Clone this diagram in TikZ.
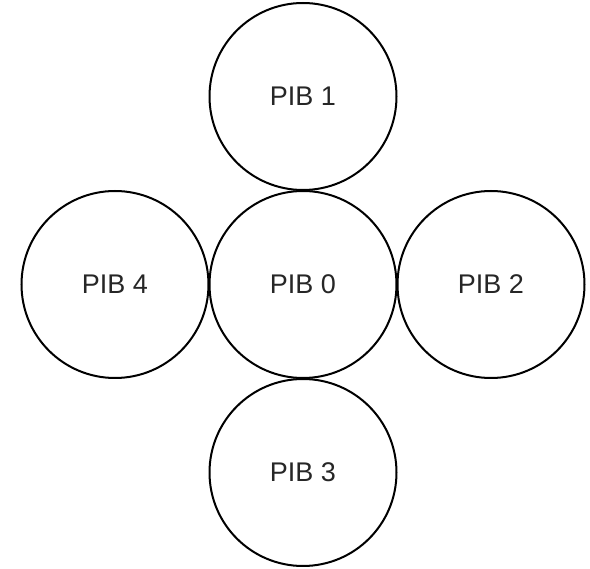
\documentclass[tikz,border=0pt]{standalone}
\usepackage{fontspec}
\setmainfont{Liberation Sans}
\begin{document}
\begin{tikzpicture}[x=1pt,y=-1pt,
  pib/.style={circle, draw=black, line width=2pt, minimum size=187pt,
    inner sep=0pt, font=\fontsize{27}{32}\selectfont, text=black!85}]
\useasboundingbox[fill=white] (0,0) rectangle (590,569);
\node[pib] (p1) at (303,96.5) {PIB 1};
\node[pib] (p4) at (115,284.5) {PIB 4};
\node[pib] (p0) at (303,284.5) {PIB 0};
\node[pib] (p2) at (491,284.5) {PIB 2};
\node[pib] (p3) at (303,472.5) {PIB 3};
\end{tikzpicture}
\end{document}
